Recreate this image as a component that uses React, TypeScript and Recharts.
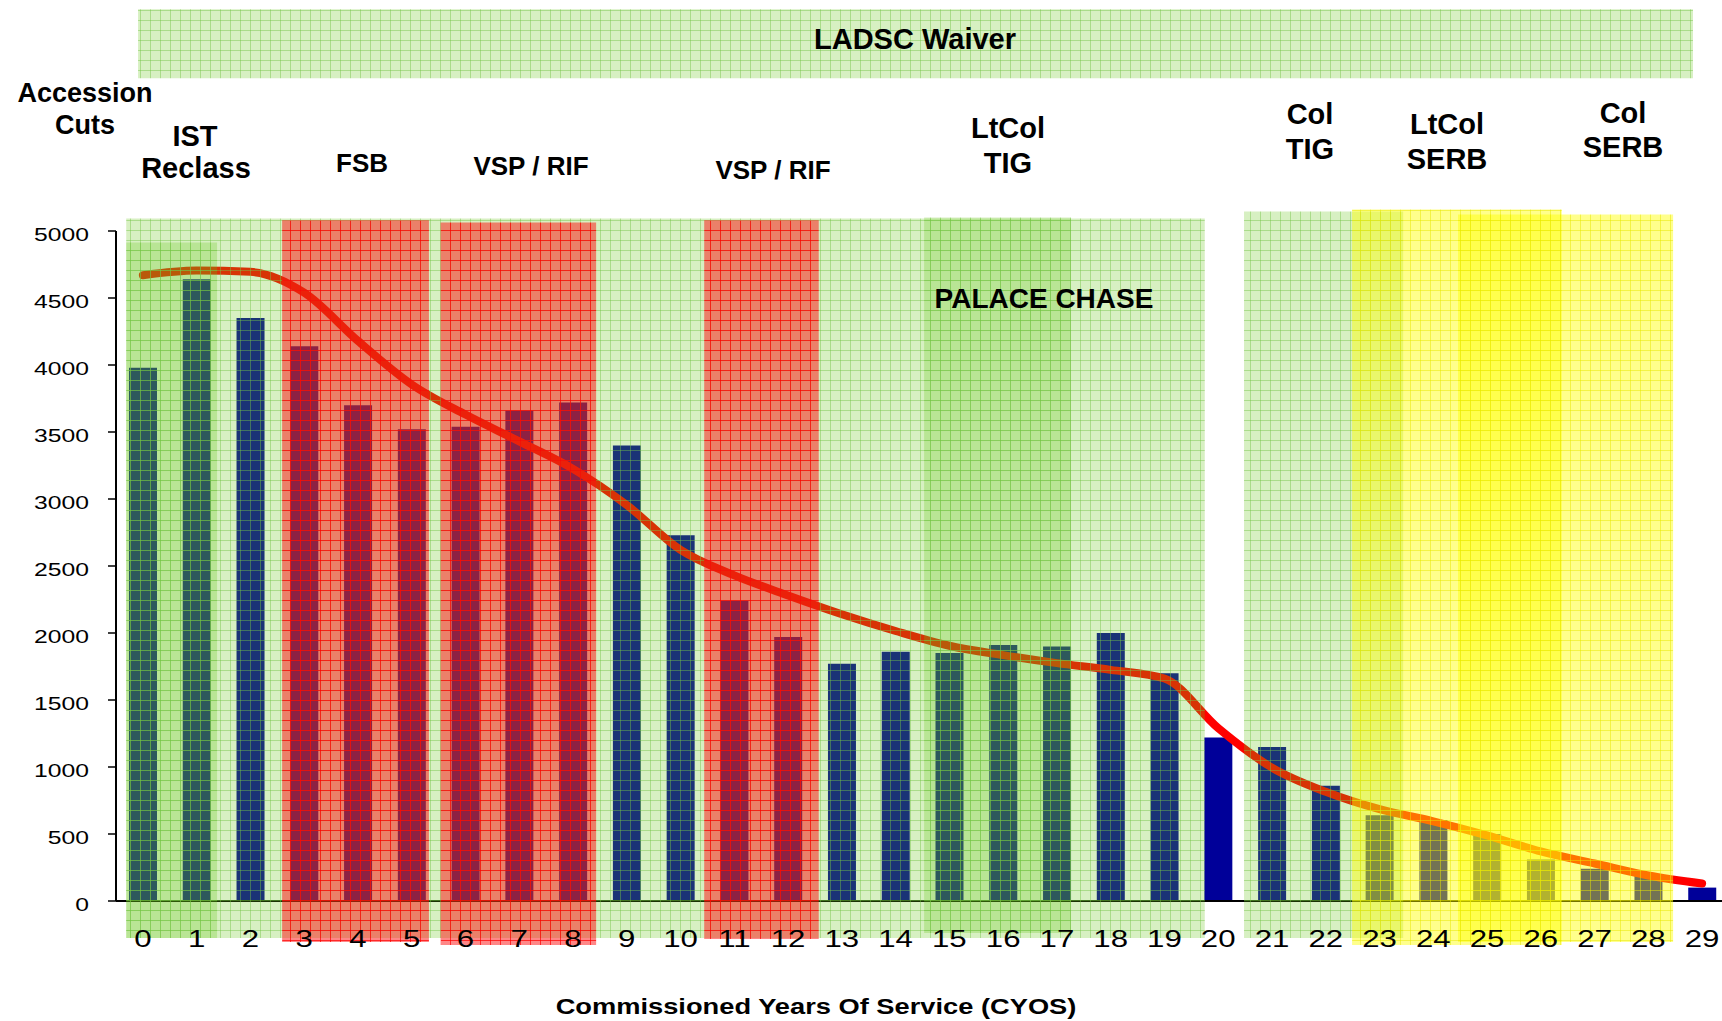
import { ComposedChart, Bar, Line, XAxis, YAxis, ReferenceArea } from 'recharts';

// commissioned years of service
const cyos = [0, 1, 2, 3, 4, 5, 6, 7, 8, 9, 10, 11, 12, 13, 14, 15, 16, 17, 18, 19, 20, 21, 22, 23, 24, 25, 26, 27, 28, 29];

// accession cuts per CYOS (bars)
const accessionCuts = [3980, 4640, 4350, 4140, 3700, 3520, 3540, 3660, 3720, 3400, 2730, 2240, 1970, 1770, 1860, 1850, 1910, 1900, 2000, 1700, 1220, 1150, 860, 640, 605, 500, 310, 240, 195, 100];

// smoothed trend (red line)
const trendCuts = [4670, 4705, 4695, 4540, 4180, 3855, 3630, 3430, 3225, 2955, 2620, 2430, 2280, 2140, 2015, 1905, 1835, 1775, 1725, 1660, 1290, 995, 815, 685, 595, 490, 370, 280, 190, 130];

const yTicks = [0, 500, 1000, 1500, 2000, 2500, 3000, 3500, 4000, 4500, 5000];
// tick marks sit between the CYOS columns
const boundaryTicks = cyos.slice(0, 29).map((c) => c - 0.5);

// program windows, in CYOS / cut units
const programBands = [
  { name: 'eligible', kind: 'green', x1: -0.31, x2: 19.75, y1: -276, y2: 5094 },
  { name: 'IST Reclass', kind: 'green', x1: -0.31, x2: 1.38, y1: -276, y2: 4914 },
  { name: 'FSB', kind: 'red', x1: 2.59, x2: 5.32, y1: -306, y2: 5079 },
  { name: 'VSP / RIF', kind: 'red', x1: 5.54, x2: 8.43, y1: -329, y2: 5064 },
  { name: 'VSP / RIF 2', kind: 'red', x1: 10.44, x2: 12.57, y1: -284, y2: 5079 },
  { name: 'LtCol TIG', kind: 'green', x1: 14.53, x2: 17.26, y1: -239, y2: 5101 },
  { name: 'Col TIG', kind: 'green', x1: 20.48, x2: 23.44, y1: -276, y2: 5146 },
  { name: 'LtCol SERB', kind: 'yellow', x1: 22.49, x2: 26.39, y1: -329, y2: 5161 },
  { name: 'Col SERB', kind: 'yellow', x1: 24.46, x2: 28.46, y1: -306, y2: 5123 },
  { name: 'LADSC Waiver', kind: 'green', x1: -0.09, x2: 28.83, y1: 6139, y2: 6655 },
];

const bandFill: Record<string, string> = {
  green: 'url(#gridGreen)',
  red: 'url(#gridRed)',
  yellow: 'url(#gridYellow)',
};

const data = cyos.map((c, i) => ({ cyos: c, cuts: accessionCuts[i], trend: trendCuts[i] }));

const XTick = ({ x, y, payload }: any) => (
  <text transform={`translate(${x},${y}) scale(1.3,1)`} textAnchor="middle" fontSize={24} fill="#000" dy={46}>
    {payload.value}
  </text>
);

const YTick = ({ x, y, payload }: any) => (
  <text transform={`translate(${x},${y}) scale(1.3,1)`} textAnchor="end" fontSize={19} fill="#000" dy={10}>
    {payload.value}
  </text>
);

const labels = [
  { text: 'Accession', x: 85, y: 102, size: 27 },
  { text: 'Cuts', x: 85, y: 134, size: 27 },
  { text: 'IST', x: 195, y: 146, size: 29 },
  { text: 'Reclass', x: 196, y: 178, size: 29 },
  { text: 'FSB', x: 362, y: 172, size: 26 },
  { text: 'VSP / RIF', x: 531, y: 175, size: 26 },
  { text: 'VSP / RIF', x: 773, y: 179, size: 26 },
  { text: 'LtCol', x: 1008, y: 138, size: 29 },
  { text: 'TIG', x: 1008, y: 173, size: 29 },
  { text: 'Col', x: 1310, y: 124, size: 29 },
  { text: 'TIG', x: 1310, y: 159, size: 29 },
  { text: 'LtCol', x: 1447, y: 134, size: 29 },
  { text: 'SERB', x: 1447, y: 169, size: 29 },
  { text: 'Col', x: 1623, y: 123, size: 29 },
  { text: 'SERB', x: 1623, y: 157, size: 29 },
  { text: 'PALACE CHASE', x: 1044, y: 308, size: 28 },
  { text: 'LADSC Waiver', x: 915, y: 49, size: 29 },
];

export default function App() {
  return (
    <div
      style={{
        position: 'absolute',
        left: 0,
        top: 0,
        width: 1722,
        height: 1021,
        overflow: 'hidden',
        background: '#fff',
        fontFamily: '"Liberation Sans", Arial, sans-serif',
      }}
    >
      <ComposedChart width={1730} height={1021} data={data} margin={{ top: 231, right: 1, bottom: 60, left: 0 }}>
        <defs>
          <pattern id="gridGreen" width={10} height={10} patternUnits="userSpaceOnUse">
            <rect width={10} height={10} fill="#64C414" fillOpacity={0.26} />
            <path d="M0 0.5H10M0.5 0V10" stroke="#74C444" strokeOpacity={0.45} strokeWidth={1} />
          </pattern>
          <pattern id="gridRed" width={10} height={10} patternUnits="userSpaceOnUse">
            <rect width={10} height={10} fill="#FF1010" fillOpacity={0.5} />
            <path d="M0 0.5H10M0.5 0V10" stroke="#FF0000" strokeOpacity={0.7} strokeWidth={1} />
          </pattern>
          <pattern id="gridYellow" width={10} height={10} patternUnits="userSpaceOnUse">
            <rect width={10} height={10} fill="#FFFF00" fillOpacity={0.45} />
            <path d="M0 0.5H10M0.5 0V10" stroke="#E8E800" strokeOpacity={0.5} strokeWidth={1} />
          </pattern>
        </defs>
        <XAxis
          xAxisId="b"
          type="number"
          dataKey="cyos"
          domain={[-0.5, 29.5]}
          ticks={boundaryTicks}
          interval={0}
          tick={false}
          tickSize={5}
          tickLine={{ stroke: '#000', strokeWidth: 1.5 }}
          axisLine={false}
          height={0}
        />
        <XAxis
          xAxisId="x"
          type="number"
          dataKey="cyos"
          domain={[-0.5, 29.5]}
          ticks={cyos}
          interval={0}
          tick={<XTick />}
          tickLine={false}
          tickSize={0}
          tickMargin={0}
          axisLine={{ stroke: '#000', strokeWidth: 2 }}
          height={60}
        />
        <YAxis
          type="number"
          domain={[0, 5000]}
          ticks={yTicks}
          interval={0}
          width={116}
          tick={<YTick />}
          tickSize={8}
          tickMargin={19}
          tickLine={{ stroke: '#000', strokeWidth: 1.5 }}
          axisLine={{ stroke: '#000', strokeWidth: 2 }}
        />
        <Bar xAxisId="x" dataKey="cuts" fill="#000099" barSize={28} isAnimationActive={false} />
        <Line
          xAxisId="x"
          dataKey="trend"
          type="monotone"
          stroke="#FF0000"
          strokeWidth={8}
          strokeLinecap="round"
          dot={false}
          activeDot={false}
          isAnimationActive={false}
        />
        {programBands.map((b) => (
          <ReferenceArea
            key={b.name}
            xAxisId="x"
            x1={b.x1}
            x2={b.x2}
            y1={b.y1}
            y2={b.y2}
            fill={bandFill[b.kind]}
            fillOpacity={1}
            stroke="none"
            ifOverflow="visible"
            zIndex={1500}
          />
        ))}
      </ComposedChart>
      <svg
        width={1722}
        height={1021}
        style={{ position: 'absolute', left: 0, top: 0, pointerEvents: 'none' }}
      >
        {labels.map((l, i) => (
          <text key={i} x={l.x} y={l.y} textAnchor="middle" fontSize={l.size} fontWeight="bold" fill="#000">
            {l.text}
          </text>
        ))}
        <text
          transform="translate(816,1014) scale(1.24,1)"
          textAnchor="middle"
          fontSize={22}
          fontWeight="bold"
          fill="#000"
        >
          Commissioned Years Of Service (CYOS)
        </text>
      </svg>
    </div>
  );
}
